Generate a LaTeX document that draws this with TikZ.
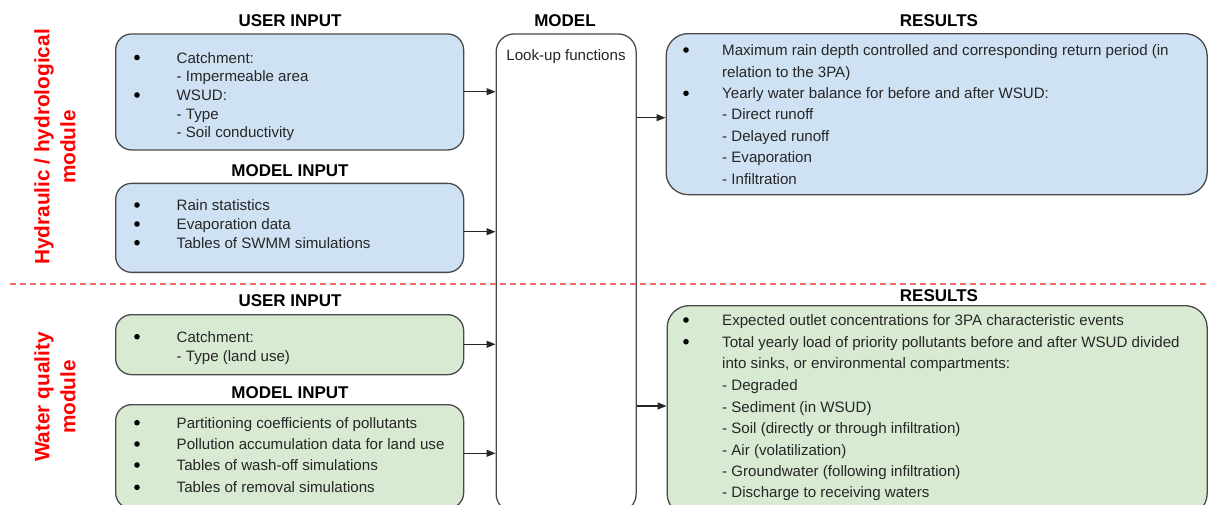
\documentclass[tikz,border=0pt]{standalone}
\usepackage{fontspec}
\setmainfont{Liberation Sans}
\usetikzlibrary{arrows.meta}
\definecolor{bluefill}{HTML}{CFE2F3}
\definecolor{greenfill}{HTML}{D9EAD3}
\definecolor{edge}{HTML}{4A4A4A}
\definecolor{txtc}{HTML}{262626}
\definecolor{redlab}{HTML}{FF0000}
\definecolor{reddash}{HTML}{F26A6A}
\tikzset{
  box/.style={draw=edge, line width=1.3pt, anchor=north west, inner sep=0pt},
  bluebox/.style={box, fill=bluefill, rounded corners=16pt},
  greenbox/.style={box, fill=greenfill, rounded corners=16pt},
  resbox/.style={rounded corners=22pt},
  txt/.style={anchor=base west, inner sep=0pt, text=txtc, font=\fontsize{15.1}{17}\selectfont},
  bul/.style={circle, fill=black, inner sep=0pt, minimum size=5.6pt, yshift=5.5pt},
  hdr/.style={anchor=base, inner sep=0pt, text=black, font=\fontsize{17}{20}\selectfont\bfseries},
  lab/.style={rotate=90, align=center, inner sep=0pt, text=redlab, font=\fontsize{20.8}{26}\selectfont\bfseries},
  arr/.style={draw=black!85, line width=1.1pt, -{Triangle[length=9pt,width=7pt]}},
}
\begin{document}
\begin{tikzpicture}[x=1pt,y=-1pt]
\useasboundingbox (0,0) rectangle (1208,504);
\clip (0,0) rectangle (1208,504);
\fill[white] (0,0) rectangle (1208,504);

% side labels
\node[lab] (labH) at (55,147) {Hydraulic / hydrological\\module};
\node[lab] (labW) at (55,397) {Water quality\\module};

% headers
\node[hdr] (hU1) at (290,26) {USER INPUT};
\node[hdr] (hM1) at (290,176) {MODEL INPUT};
\node[hdr] (hU2) at (290,306.5) {USER INPUT};
\node[hdr] (hM2) at (290,398.5) {MODEL INPUT};
\node[hdr] (hMod) at (565,26) {MODEL};
\node[hdr] (hR1) at (939,26) {RESULTS};
\node[hdr] (hR2) at (939,301) {RESULTS};

% boxes
\node[bluebox, minimum width=348pt, minimum height=116pt] (ub) at (115,33.3) {};
\node[bluebox, minimum width=348pt, minimum height=89pt] (mb) at (115,182.7) {};
\node[greenbox, minimum width=348pt, minimum height=60pt] (ug) at (115,314) {};
\node[greenbox, minimum width=348pt, minimum height=104pt] (mg) at (115,404) {};
\node[box, fill=white, rounded corners=18pt, minimum width=140pt, minimum height=478pt] (model) at (495.5,33.3) {};
\node[box, fill=bluefill, resbox, minimum width=541pt, minimum height=161pt] (rb) at (665.5,33) {};
\node[box, fill=greenfill, resbox, minimum width=540pt, minimum height=210pt] (rg) at (666.5,305) {};

% dashed separator (drawn over the model box)
\draw[reddash, line width=1.6pt, dash pattern=on 6pt off 4pt] (10,284) coordinate (dA) -- (1208,284) coordinate (dB);

% model text
\node[anchor=base, inner sep=0pt, text=txtc, font=\fontsize{15.1}{17}\selectfont] (lookup) at (566,60.5) {Look-up functions};

% user input (hydraulic)
\node[bul] (b1) at (137,63) {};
\node[txt] (t1) at (176.5,63) {Catchment:};
\node[txt] (t2) at (176.5,81.5) {- Impermeable area};
\node[bul] (b2) at (137,100.5) {};
\node[txt] (t3) at (176.5,100.5) {WSUD:};
\node[txt] (t4) at (176.5,119) {- Type};
\node[txt] (t5) at (176.5,137.8) {- Soil conductivity};

% model input (hydraulic)
\node[bul] (b3) at (137,210.5) {};
\node[txt] (t6) at (176.5,210.5) {Rain statistics};
\node[bul] (b4) at (137,229.5) {};
\node[txt] (t7) at (176.5,229.5) {Evaporation data};
\node[bul] (b5) at (137,248.2) {};
\node[txt] (t8) at (176.5,248.2) {Tables of SWMM simulations};

% user input (quality)
\node[bul] (b6) at (137,342.2) {};
\node[txt] (t9) at (176.5,342.2) {Catchment:};
\node[txt] (t10) at (176.5,361.2) {- Type (land use)};

% model input (quality)
\node[bul] (b7) at (137,428.2) {};
\node[txt] (t11) at (176.5,428.2) {Partitioning coefficients of pollutants};
\node[bul] (b8) at (137,449.5) {};
\node[txt] (t12) at (176.5,449.5) {Pollution accumulation data for land use};
\node[bul] (b9) at (137,470.5) {};
\node[txt] (t13) at (176.5,470.5) {Tables of wash-off simulations};
\node[bul] (b10) at (137,492.8) {};
\node[txt] (t14) at (176.5,492.8) {Tables of removal simulations};

% results (hydraulic)
\node[bul] (rb1) at (686,55.5) {};
\node[txt] (r1) at (722,55.5) {Maximum rain depth controlled and corresponding return period (in};
\node[txt] (r2) at (722,77.2) {relation to the 3PA)};
\node[bul] (rb2) at (686,98.8) {};
\node[txt] (r3) at (722,98.8) {Yearly water balance for before and after WSUD:};
\node[txt] (r4) at (722,119.8) {- Direct runoff};
\node[txt] (r5) at (722,141.5) {- Delayed runoff};
\node[txt] (r6) at (722,162.8) {- Evaporation};
\node[txt] (r7) at (722,184.5) {- Infiltration};

% results (quality)
\node[bul] (rb3) at (686,325.5) {};
\node[txt] (s1) at (722,325.5) {Expected outlet concentrations for 3PA characteristic events};
\node[bul] (rb4) at (686,347.2) {};
\node[txt] (s2) at (722,347.2) {Total yearly load of priority pollutants before and after WSUD divided};
\node[txt] (s3) at (722,368.8) {into sinks, or environmental compartments:};
\node[txt] (s4) at (722,390.5) {- Degraded};
\node[txt] (s5) at (722,412.2) {- Sediment (in WSUD)};
\node[txt] (s6) at (722,433.8) {- Soil (directly or through infiltration)};
\node[txt] (s7) at (722,455.5) {- Air (volatilization)};
\node[txt] (s8) at (722,476.5) {- Groundwater (following infiltration)};
\node[txt] (s9) at (722,497.8) {- Discharge to receiving waters};

% connectors
\draw[arr] (ub.east |- 0,91.7) -- (model.west |- 0,91.7);
\draw[arr] (mb.east |- 0,231.7) -- (model.west |- 0,231.7);
\draw[arr] (ug.east |- 0,344.3) -- (model.west |- 0,344.3);
\draw[arr] (mg.east |- 0,453.3) -- (model.west |- 0,453.3);
\draw[arr] (model.east |- 0,117.7) -- (rb.west |- 0,117.7);
\draw[arr] (model.east |- 0,406) -- (rg.west |- 0,406);
\end{tikzpicture}
\end{document}
